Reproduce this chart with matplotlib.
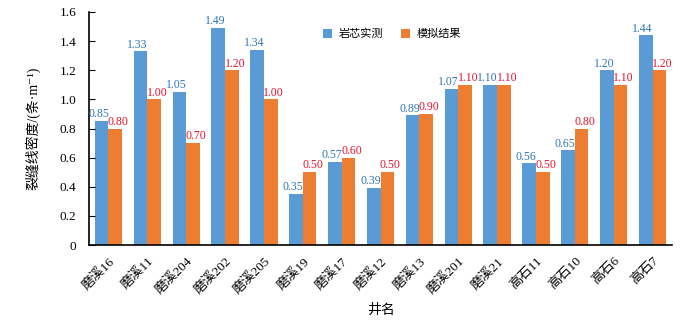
import matplotlib
import matplotlib.pyplot as plt
import numpy as np

wells = ["磨溪16", "磨溪11", "磨溪204", "磨溪202", "磨溪205", "磨溪19", "磨溪17",
         "磨溪12", "磨溪13", "磨溪201", "磨溪21", "高石11", "高石10", "高石6", "高石7"]
core = [0.85, 1.33, 1.05, 1.49, 1.34, 0.35, 0.57, 0.39, 0.89, 1.07, 1.10, 0.56, 0.65, 1.20, 1.44]
model = [0.80, 1.00, 0.70, 1.20, 1.00, 0.50, 0.60, 0.50, 0.90, 1.10, 1.10, 0.50, 0.80, 1.10, 1.20]

plt.rcParams["font.family"] = ["Liberation Serif", "Noto Sans CJK SC", "DejaVu Sans"]

BLUE = "#5B9BD5"
ORANGE = "#ED7D31"

fig = plt.figure(figsize=(6.92, 3.23), dpi=100)
ax = fig.add_axes([89 / 692, 1 - 245 / 323, 583 / 692, 233 / 323])

x = np.arange(len(wells))
w = 0.35
b1 = ax.bar(x - w / 2, core, w, color=BLUE, label="岩芯实测")
b2 = ax.bar(x + w / 2, model, w, color=ORANGE, label="模拟结果")

# labels sit a little outward from each bar, like the original
for rect, v in zip(b1, core):
    ax.text(rect.get_x() + rect.get_width() / 2 - 0.08, v + 0.005, f"{v:.2f}",
            ha="center", va="bottom", fontsize=8.5, color="#2E75B6")
for rect, v in zip(b2, model):
    ax.text(rect.get_x() + rect.get_width() / 2 + 0.08, v + 0.005, f"{v:.2f}",
            ha="center", va="bottom", fontsize=8.5, color="#E8112D")

ax.set_xlim(-0.5, len(wells) - 0.5)
ax.set_ylim(0, 1.6)
ax.set_yticks(np.arange(0, 1.61, 0.2))
ax.set_yticklabels(["0"] + [f"{t:.1f}" for t in np.arange(0.2, 1.61, 0.2)])
ax.set_xticks(x)
ax.set_xticklabels(wells, rotation=45, ha="right", rotation_mode="anchor", fontsize=9.5)
ax.tick_params(axis="y", direction="in", length=4, labelsize=9.5, pad=9)
ax.tick_params(axis="x", length=0, pad=7)
for s in ["top", "right"]:
    ax.spines[s].set_visible(False)
ax.spines["left"].set_linewidth(1.2)
ax.spines["bottom"].set_linewidth(1.2)

ax.set_ylabel("裂缝线密度/(条·m⁻¹)", fontsize=10, labelpad=14)
ax.set_xlabel("井名", fontsize=10, labelpad=5)

ax.legend(loc="upper left", bbox_to_anchor=(0.385, 0.97), ncol=2, frameon=False,
          fontsize=8, handlelength=0.8, handleheight=0.8, handletextpad=0.6,
          columnspacing=1.6)

fig.savefig("out.png", dpi=100)
